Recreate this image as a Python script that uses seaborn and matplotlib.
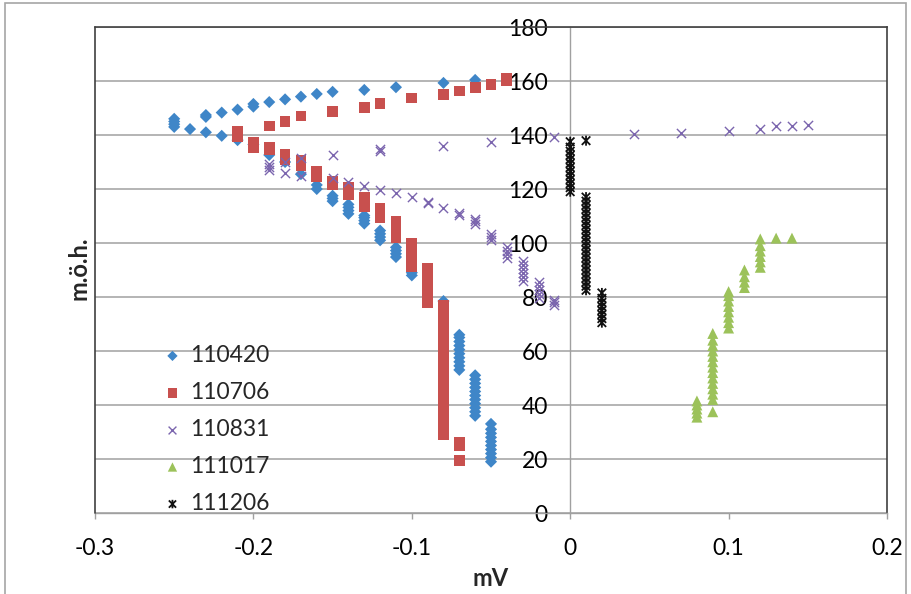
import matplotlib
matplotlib.use("Agg")
import matplotlib.pyplot as plt
from matplotlib.patches import Rectangle
from matplotlib.path import Path
import seaborn as sns
import pandas as pd

# ---------------- data ----------------
series_names = ["110420", "110706", "110831", "111017", "111206"]

blue_mv = [-0.25, -0.24, -0.23, -0.22, -0.21, -0.20, -0.19, -0.18, -0.17, -0.16,
           -0.15, -0.14, -0.13, -0.12, -0.11, -0.10, -0.08, -0.07, -0.06, -0.05]
blue_moh = [
    [143, 144, 145, 146],
    [142.2],
    [141, 146.7, 147.4],
    [139.7, 148.3],
    [138.1, 149.4],
    [136.5, 150.5, 151.5],
    [132.6, 152.2],
    [130, 153.2],
    [125.5, 154.2],
    [120, 121.5, 155.2],
    [115.5, 116.5, 117.5, 156],
    [110.8, 112, 113.2, 114.3],
    [107.2, 108.3, 109.4, 110.2, 156.7],
    [101, 102.2, 103.4, 104.6],
    [94.8, 96, 97.2, 98.4, 157.7],
    [88, 89],
    [78.5, 159.3],
    [53, 54.5, 56, 57.5, 59, 60.5, 62, 63.5, 65, 66],
    [36, 37.5, 39, 40.5, 42, 43.5, 45, 46.5, 48, 49.5, 51, 160.4],
    [19, 20.5, 22, 23.5, 25, 26.5, 28, 29.5, 31, 33],
]

red_mv = [-0.21, -0.20, -0.19, -0.18, -0.17, -0.16, -0.15, -0.14, -0.13, -0.12,
          -0.11, -0.10, -0.09, -0.08, -0.07, -0.06, -0.05, -0.04]
red_moh = [
    [139.5, 140.5, 141.3],
    [135.5, 136.5, 137.4],
    [134.5, 135.4, 143.3],
    [131, 132, 133, 145],
    [128.5, 129.5, 130.5, 147],
    [124.5, 125.5, 126.7],
    [121.8, 122.8, 148.6],
    [118, 119.2, 120.5],
    [113.5, 114.6, 115.7, 116.8, 150.1],
    [109.3, 110.5, 111.7, 113, 151.7],
    [102, 103.3, 104.6, 105.9, 107.2, 108],
    [91.3, 92.8, 94.3, 95.8, 97.3, 98.8, 100, 153.7],
    [77.8, 79.3, 80.8, 82.3, 83.8, 85.3, 86.8, 88.3, 89.8, 90.6],
    [29, 31, 33, 35, 37, 39, 41, 43, 45, 47, 49, 51, 53, 55, 57, 59, 61, 63,
     65, 67, 69, 71, 73, 75, 77, 155],
    [19.5, 25, 26, 156.3],
    [157.5],
    [158.8],
    [160.3, 161],
]

purple_mv = [-0.19, -0.18, -0.17, -0.15, -0.14, -0.13, -0.12, -0.11, -0.10, -0.09,
             -0.08, -0.07, -0.06, -0.05, -0.04, -0.03, -0.02, -0.01,
             0.04, 0.07, 0.10, 0.12, 0.13, 0.14, 0.15]
purple_moh = [
    [127, 128, 129.3],
    [126, 130],
    [125, 131.5],
    [124, 132.6],
    [122.7],
    [121.1],
    [119.6, 134, 134.8],
    [118.4],
    [116.9],
    [114.7, 115.3],
    [112.8, 135.8],
    [110.5, 111.2],
    [107.2, 108.2, 109],
    [101.2, 102.3, 103.5, 137.4],
    [94.5, 95.8, 97.2, 98.5],
    [86, 87.5, 89, 90.5, 92, 93.5],
    [79.5, 81, 82.5, 84, 85.5],
    [77, 78, 79, 139.1],
    [140.4], [140.9], [141.6], [142.3], [143.3], [143.4], [143.6],
]

green_mv = [0.08, 0.09, 0.10, 0.11, 0.12, 0.13, 0.14]
green_moh = [
    [35.5, 37, 38.5, 40, 41.5],
    [37.5, 42, 44, 46, 48, 50, 52, 54, 56, 58, 60, 62, 64, 66.5],
    [68.5, 70.5, 72.5, 74.5, 76.5, 78.5, 80.5, 82],
    [83.5, 85.5, 87.5, 90],
    [91, 93, 95, 97, 99, 101.5],
    [101.8],
    [101.8],
]

black_mv = [0.00, 0.01, 0.02]
black_moh = [
    [119, 120.5, 122, 123.5, 125, 126.5, 128, 129.5, 131, 132.5, 134, 135.5, 137.5],
    [82.5, 84, 85.5, 87, 88.5, 90, 91.5, 93, 94.5, 96, 97.5, 99, 100.5, 102,
     103.5, 105, 106.5, 108, 109.5, 111, 112.5, 114, 115.5, 117, 137.9],
    [70.5, 72, 73.5, 75, 76.5, 78, 79.5, 81.5],
]

x_ticks = [-0.3, -0.2, -0.1, 0, 0.1, 0.2]
x_tick_labels = ["-0.3", "-0.2", "-0.1", "0", "0.1", "0.2"]
y_ticks = [0, 20, 40, 60, 80, 100, 120, 140, 160, 180]
x_title = "mV"
y_title = "m.ö.h."

# ---------------- style ----------------
sns.set_style("white")
plt.rcParams["font.family"] = ["Lato", "DejaVu Sans"]

colors = ["#3F86C8", "#C8504E", "#7B65AE", "#9CC25A", "#111111"]

# Excel-like star marker: an x with a vertical bar through it
star = Path([(-0.85, -0.85), (0.85, 0.85), (-0.85, 0.85), (0.85, -0.85), (0, -1), (0, 1)],
            [Path.MOVETO, Path.LINETO, Path.MOVETO, Path.LINETO, Path.MOVETO, Path.LINETO])


def expand(mv, moh):
    xs, ys = [], []
    for x, col in zip(mv, moh):
        for y in col:
            xs.append(x)
            ys.append(y)
    return pd.DataFrame({"mV": xs, "moh": ys})


fig = plt.figure(figsize=(9.11, 5.94), dpi=100)
W, H = 911, 594
ax = fig.add_axes([95 / W, 1 - 513 / H, 792 / W, 486 / H])

# (mv, moh, marker, size, linewidth, filled)
specs = [
    (blue_mv, blue_moh, "D", 38, 0, True),
    (red_mv, red_moh, "s", 60, 0, True),
    (purple_mv, purple_moh, "x", 44, 1.0, False),
    (green_mv, green_moh, "^", 62, 0, True),
    (black_mv, black_moh, star, 52, 1.3, None),
]

for (mv, moh, mk, size, lw, filled), name, c in zip(specs, series_names, colors):
    df = expand(mv, moh)
    if filled is True:
        sns.scatterplot(data=df, x="mV", y="moh", marker=mk, s=size, color=c,
                        edgecolor="none", linewidth=0, label=name, ax=ax, zorder=3)
    elif filled is False:
        sns.scatterplot(data=df, x="mV", y="moh", marker=mk, s=size, color=c,
                        linewidth=lw, label=name, ax=ax, zorder=3)
    else:
        sns.scatterplot(data=df, x="mV", y="moh", marker=mk, s=size,
                        facecolor="none", edgecolor=c,
                        linewidth=lw, label=name, ax=ax, zorder=3)

ax.set_xlim(-0.3, 0.2)
ax.set_ylim(0, 180)
ax.set_xticks(x_ticks)
ax.set_xticklabels(x_tick_labels)
ax.set_yticks(y_ticks)
ax.set_yticklabels([str(v) for v in y_ticks])

grid_c = "#A0A0A0"
ax.yaxis.grid(True, color=grid_c, lw=1.1)
ax.xaxis.grid(False)
ax.set_axisbelow(True)

ax.spines["left"].set_position(("data", 0))
ax.spines["left"].set_color(grid_c)
ax.spines["left"].set_linewidth(1.0)
ax.spines["bottom"].set_color(grid_c)
ax.spines["bottom"].set_linewidth(1.0)
for s in ("top", "right"):
    ax.spines[s].set_visible(True)
    ax.spines[s].set_color("#404040")
    ax.spines[s].set_linewidth(1.2)
# left edge of the plot area frame
ax.plot([0, 0], [0, 1], transform=ax.transAxes, color="#404040", lw=1.2,
        clip_on=False, zorder=5)

ax.tick_params(axis="x", direction="out", length=4, width=1, color=grid_c,
               pad=14, labelsize=16.5, labelcolor="black", bottom=True)
ax.tick_params(axis="y", direction="out", length=0, pad=16, labelsize=16.5,
               labelcolor="black", left=True)

ax.set_xlabel(x_title, fontsize=17, fontweight="bold")
ax.set_ylabel(y_title, fontsize=17, fontweight="bold")
ax.xaxis.label.set_va("center")
ax.xaxis.set_label_coords(0.5, (513 - 578) / 486)
ax.yaxis.label.set_va("center")
ax.yaxis.label.set_ha("center")
ax.yaxis.set_label_coords((79 - 95) / 792, (513 - 268) / 486)

leg = ax.legend(loc="center left", bbox_to_anchor=((161 - 95) / 792, (513 - 429.5) / 486),
                frameon=False, fontsize=16.5, handlelength=1.0, handletextpad=0.25,
                labelspacing=0.70, borderpad=0, borderaxespad=0, markerscale=0.85)

# chart-area border
fig.patches.append(Rectangle((4.5 / W, -0.02), (906 - 4.5) / W, 1 - 3 / H + 0.02,
                             transform=fig.transFigure, fill=False,
                             edgecolor="#A6A6A6", lw=1.2))

fig.savefig("out.png", dpi=100)
